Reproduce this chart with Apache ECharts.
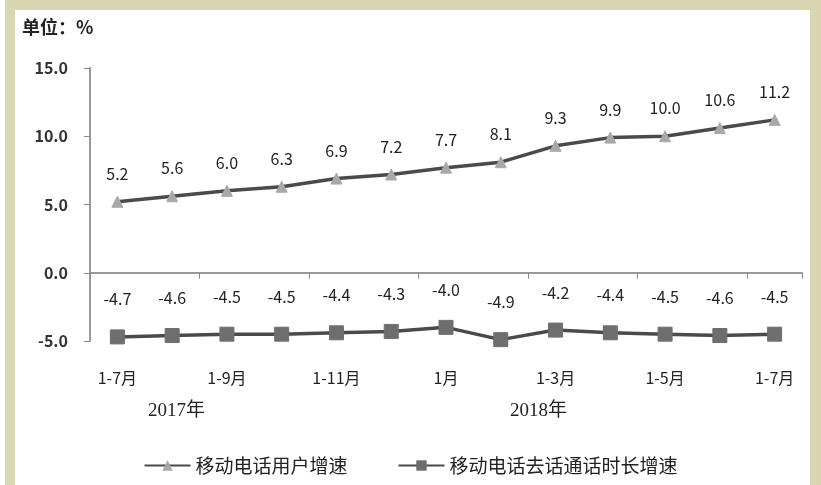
<!DOCTYPE html>
<html>
<head>
<meta charset="utf-8">
<script src="https://cdn.jsdelivr.net/npm/echarts@6/dist/echarts.min.js"></script>
<style>
html,body{margin:0;padding:0;background:#fff;}
#myChart{width:821px;height:485px;}
</style>
</head>
<body>
<div id="myChart"></div>
<script type="text/javascript">
//数据
var months = ['1-7月', '1-8月', '1-9月', '1-10月', '1-11月', '1-12月', '1月', '1-2月', '1-3月', '1-4月', '1-5月', '1-6月', '1-7月'];
var userGrowth = [5.2, 5.6, 6.0, 6.3, 6.9, 7.2, 7.7, 8.1, 9.3, 9.9, 10.0, 10.6, 11.2];
var callGrowth = [-4.7, -4.6, -4.5, -4.5, -4.4, -4.3, -4.0, -4.9, -4.2, -4.4, -4.5, -4.6, -4.5];
var seriesNames = ['移动电话用户增速', '移动电话去话通话时长增速'];
var yearLabels = ['2017年', '2018年'];

var font = '"Noto Sans CJK SC", "DejaVu Sans", sans-serif';
var frame = '#d9d7b3';

var option = {
	backgroundColor: '#ffffff',
	textStyle: { fontFamily: font },
	animation: false,
	graphic: [
		{ type: 'rect', z: -10, shape: { x: 5, y: 0, width: 816, height: 10 }, style: { fill: frame } },
		{ type: 'rect', z: -10, shape: { x: 5, y: 0, width: 10, height: 485 }, style: { fill: frame } },
		{ type: 'rect', z: -10, shape: { x: 810, y: 0, width: 11, height: 485 }, style: { fill: frame } },
		{ type: 'text', left: 22, top: 18, style: { text: '单位：%', font: 'bold 18px ' + font, fill: '#222' } },
		{ type: 'text', left: 148, top: 402, style: { text: yearLabels[0], font: '19px "Liberation Serif", "Noto Sans CJK SC", serif', fill: '#222' } },
		{ type: 'text', left: 510, top: 402, style: { text: yearLabels[1], font: '19px "Liberation Serif", "Noto Sans CJK SC", serif', fill: '#222' } }
	],
	grid: { left: 90, right: 19, top: 68, bottom: 144, containLabel: false },
	legend: {
		bottom: 5,
		left: 'center',
		itemGap: 50,
		itemWidth: 46,
		itemHeight: 13,
		textStyle: { fontSize: 19, color: '#222', fontFamily: font },
		data: seriesNames
	},
	xAxis: {
		type: 'category',
		data: months,
		boundaryGap: true,
		axisLine: { lineStyle: { color: '#999', width: 2 } },
		axisTick: { show: true, inside: false, length: 6, alignWithLabel: false, lineStyle: { color: '#888' } },
		axisLabel: { interval: 1, margin: 29, fontSize: 16, color: '#222', fontFamily: font }
	},
	yAxis: {
		type: 'value',
		min: -5,
		max: 15,
		interval: 5,
		splitLine: { show: false },
		axisLine: { show: true, lineStyle: { color: '#999', width: 2 } },
		axisTick: { show: true, length: 6, lineStyle: { color: '#888' } },
		axisLabel: { margin: 22, fontSize: 16, fontWeight: 'bold', color: '#333', fontFamily: font,
			formatter: function (v) { return v.toFixed(1); } }
	},
	series: [
		{
			name: seriesNames[0],
			type: 'line',
			data: userGrowth,
			symbol: 'triangle',
			symbolSize: 11,
			lineStyle: { color: '#4a4a4a', width: 3.5 },
			itemStyle: { color: '#a8a8a8', borderColor: '#a8a8a8' },
			label: { show: true, position: 'top', distance: 14, fontSize: 16, color: '#222', fontFamily: font,
				formatter: function (p) { return p.value.toFixed(1); } }
		},
		{
			name: seriesNames[1],
			type: 'line',
			data: callGrowth,
			symbol: 'rect',
			symbolSize: 14,
			lineStyle: { color: '#4a4a4a', width: 3.5 },
			itemStyle: { color: '#6e6e6e', borderColor: '#6e6e6e' },
			label: { show: true, position: 'top', distance: 22, fontSize: 16, color: '#222', fontFamily: font,
				formatter: function (p) { return p.value.toFixed(1); } }
		}
	],
	tooltip: { show: true }
};
echarts.init(document.getElementById('myChart')).setOption(option);
</script>
</body>
</html>
